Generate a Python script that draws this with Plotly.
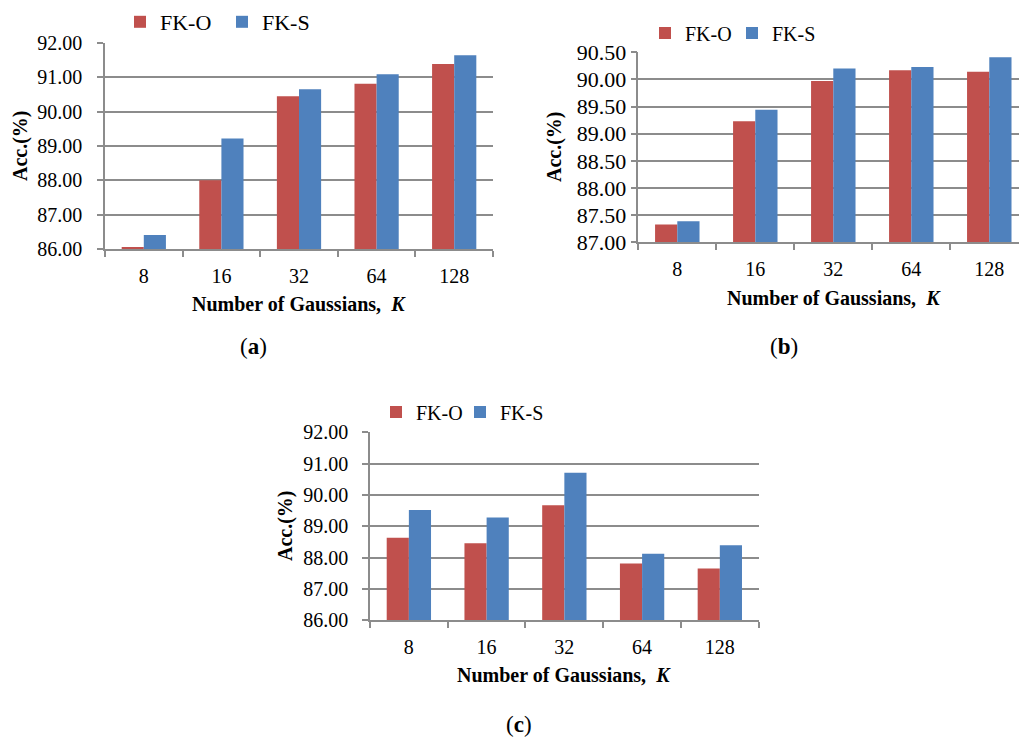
import plotly.graph_objects as go

W, H = 1019, 737

categories = ["8", "16", "32", "64", "128"]

# Panel (a)
a_fko = [86.06, 88.00, 90.45, 90.81, 91.39]
a_fks = [86.41, 89.22, 90.65, 91.09, 91.64]
a_ticks = [86, 87, 88, 89, 90, 91, 92]

# Panel (b)
b_fko = [87.33, 89.23, 89.97, 90.17, 90.14]
b_fks = [87.39, 89.44, 90.20, 90.23, 90.41]
b_ticks = [87.0, 87.5, 88.0, 88.5, 89.0, 89.5, 90.0, 90.5]

# Panel (c)
c_fko = [88.63, 88.46, 89.67, 87.81, 87.65]
c_fks = [89.52, 89.28, 90.71, 88.12, 88.39]
c_ticks = [86, 87, 88, 89, 90, 91, 92]

series_names = ["FK-O", "FK-S"]
RED = "#C0504D"
BLUE = "#4F81BD"
GRID = "#8C8C8C"
SERIF = "Liberation Serif"


def px_x(p):
    return p / W


def px_y(p):
    return 1 - p / H


fig = go.Figure()

panels = [
    # (suffix, fko, fks, ticks, x-domain px, y-domain px (top, bottom), x-range, legend, label standoff, y font)
    ("", a_fko, a_fks, a_ticks, (105, 493), (43, 249), [-0.5, 4.5], "legend", 11, 20),
    ("2", b_fko, b_fks, b_ticks, (638.3, 1019), (52.3, 242.3), [-0.5, 4.381], "legend2", 0, 22),
    ("3", c_fko, c_fks, c_ticks, (370, 758.7), (432.3, 620.2), [-0.5, 4.5], "legend3", 10, 20),
]

for suffix, fko, fks, ticks, xd, yd, xr, leg, standoff, yfont in panels:
    for name, vals, col in ((series_names[0], fko, RED), (series_names[1], fks, BLUE)):
        fig.add_trace(go.Bar(
            x=categories, y=vals, name=name,
            marker=dict(color=col, line=dict(width=0)),
            xaxis="x" + suffix, yaxis="y" + suffix, legend=leg,
        ))
    fig.update_layout(**{
        "xaxis" + suffix: dict(
            domain=[px_x(xd[0]), px_x(xd[1])],
            anchor="y" + suffix, automargin=False,
            type="category", range=xr,
            showgrid=False, showline=True, linecolor=GRID, linewidth=1.5,
            ticks="outside", tickson="boundaries", ticklen=6, tickwidth=1.5, tickcolor=GRID,
            tickfont=dict(family=SERIF, size=20, color="black"),
            ticklabelstandoff=8,
            fixedrange=True,
        ),
        "yaxis" + suffix: dict(
            domain=[px_y(yd[1]), px_y(yd[0])],
            anchor="x" + suffix, automargin=False, side="left",
            range=[ticks[0], ticks[-1]],
            tickmode="array",
            tickvals=ticks, ticktext=[f"{t:.2f}" for t in ticks],
            showgrid=True, gridcolor=GRID, gridwidth=1.5,
            showline=True, linecolor=GRID, linewidth=1.5,
            ticks="outside", ticklen=6, tickwidth=1.5, tickcolor=GRID,
            tickfont=dict(family=SERIF, size=yfont, color="black"),
            ticklabelstandoff=standoff,
            zeroline=False, fixedrange=True,
        ),
    })

legend_style = dict(
    orientation="h", xanchor="left", yanchor="middle",
    bgcolor="rgba(0,0,0,0)", borderwidth=0,
    itemwidth=30, traceorder="normal",
)
fig.update_layout(
    legend=dict(x=px_x(120), y=px_y(22), entrywidth=57,
                font=dict(family=SERIF, size=22, color="black"), **legend_style),
    legend2=dict(x=px_x(645), y=px_y(33), entrywidth=42,
                 font=dict(family=SERIF, size=20, color="black"), **legend_style),
    legend3=dict(x=px_x(376), y=px_y(412), entrywidth=39,
                 font=dict(family=SERIF, size=20, color="black"), **legend_style),
)

annotations = []
title_text = "<b>Number of Gaussians,\u00a0\u00a0<i>K</i></b>"
for cx, cy in ((299, 304), (834, 298), (564, 675)):
    annotations.append(dict(
        text=title_text, x=px_x(cx), y=px_y(cy), xref="paper", yref="paper",
        xanchor="center", yanchor="middle", showarrow=False,
        font=dict(family=SERIF, size=20, color="black"),
    ))
for cx, cy in ((20, 146), (555, 147), (285, 526)):
    annotations.append(dict(
        text="<b>Acc.(%)</b>", x=px_x(cx), y=px_y(cy), xref="paper", yref="paper",
        xanchor="center", yanchor="middle", showarrow=False, textangle=-90,
        font=dict(family=SERIF, size=20, color="black"),
    ))
for lab, cx, cy in (("a", 253, 346), ("b", 784, 346), ("c", 519, 724)):
    annotations.append(dict(
        text=f"(<b>{lab}</b>)", x=px_x(cx), y=px_y(cy), xref="paper", yref="paper",
        xanchor="center", yanchor="middle", showarrow=False,
        font=dict(family=SERIF, size=23, color="black"),
    ))

fig.update_layout(
    template="none",
    width=W, height=H,
    margin=dict(l=0, r=0, t=0, b=0, autoexpand=False),
    paper_bgcolor="white", plot_bgcolor="white",
    barmode="group", bargap=0.43, bargroupgap=0,
    showlegend=True,
    annotations=annotations,
)

fig.write_html("out.html", config={"displayModeBar": False})
